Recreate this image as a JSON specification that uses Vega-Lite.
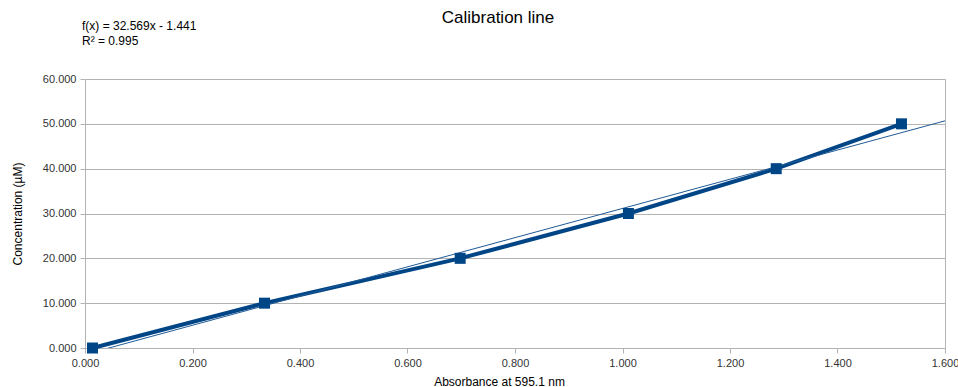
{
  "$schema": "https://vega.github.io/schema/vega-lite/v6.json",
  "width": 860,
  "height": 269,
  "autosize": {"type": "none"},
  "padding": {"left": 85, "top": 79, "right": 13, "bottom": 39},
  "background": "white",
  "config": {
    "font": "Liberation Sans",
    "view": {"stroke": "#b3b3b3", "strokeWidth": 1},
    "axis": {
      "gridColor": "#b3b3b3",
      "domainColor": "#b3b3b3",
      "tickColor": "#b3b3b3",
      "tickSize": 5,
      "labelFont": "Liberation Sans",
      "labelFontSize": 11,
      "labelColor": "#333333",
      "labelFlush": false,
      "titleFont": "Liberation Sans",
      "titleFontSize": 12,
      "titleFontWeight": "normal",
      "titleColor": "#000000",
      "labelPadding": 4
    }
  },
  "title": {
    "text": "Calibration line",
    "font": "Liberation Sans",
    "fontSize": 17,
    "fontWeight": "normal",
    "color": "#000000",
    "anchor": "middle",
    "baseline": "middle",
    "dx": -17,
    "dy": 15,
    "offset": 0
  },
  "datasets": {
    "points": [
      {"absorbance": 0.014, "concentration": 0},
      {"absorbance": 0.334, "concentration": 10},
      {"absorbance": 0.698, "concentration": 20},
      {"absorbance": 1.011, "concentration": 30},
      {"absorbance": 1.286, "concentration": 40},
      {"absorbance": 1.519, "concentration": 50}
    ],
    "trend": [
      {"absorbance": 0.0, "concentration": -1.441},
      {"absorbance": 1.6, "concentration": 50.669}
    ],
    "label": [
      {"absorbance": 0, "concentration": 71.9, "text": "f(x) = 32.569x - 1.441\nR² = 0.995"}
    ]
  },
  "layer": [
    {
      "data": {"name": "points"},
      "mark": {"type": "line", "color": "#004586", "strokeWidth": 4},
      "encoding": {
        "x": {
          "field": "absorbance",
          "type": "quantitative",
          "scale": {"domain": [0, 1.6], "nice": false, "zero": false},
          "axis": {"title": "Absorbance at 595.1 nm", "format": ".3f", "values": [0, 0.2, 0.4, 0.6, 0.8, 1.0, 1.2, 1.4, 1.6], "grid": false, "titleX": 414, "titlePadding": 8}
        },
        "y": {
          "field": "concentration",
          "type": "quantitative",
          "scale": {"domain": [0, 60], "nice": false},
          "axis": {"title": "Concentration (µM)", "format": ".3f", "values": [0, 10, 20, 30, 40, 50, 60], "grid": true, "titlePadding": 18}
        }
      }
    },
    {
      "data": {"name": "trend"},
      "mark": {"type": "line", "color": "#1f5a96", "strokeWidth": 1, "clip": true},
      "encoding": {
        "x": {"field": "absorbance", "type": "quantitative"},
        "y": {"field": "concentration", "type": "quantitative"}
      }
    },
    {
      "data": {"name": "points"},
      "mark": {"type": "square", "color": "#004586", "filled": true, "opacity": 1, "size": 121},
      "encoding": {
        "x": {"field": "absorbance", "type": "quantitative"},
        "y": {"field": "concentration", "type": "quantitative"}
      }
    },
    {
      "data": {"name": "label"},
      "mark": {"type": "text", "align": "left", "baseline": "middle", "lineBreak": "\n", "lineHeight": 15, "fontSize": 12, "font": "Liberation Sans", "color": "#000000", "dx": -3, "clip": false},
      "encoding": {
        "x": {"field": "absorbance", "type": "quantitative"},
        "y": {"field": "concentration", "type": "quantitative"},
        "text": {"field": "text"}
      }
    }
  ]
}
